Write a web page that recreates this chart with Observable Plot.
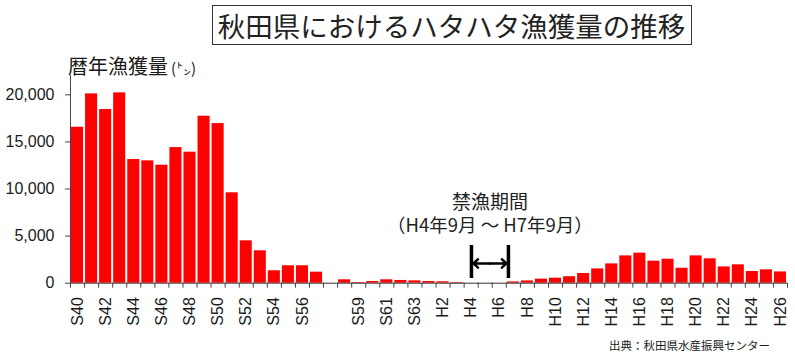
<!DOCTYPE html>
<html>
<head>
<meta charset="utf-8">
<script src="https://cdn.jsdelivr.net/npm/d3@7"></script>
<script src="https://cdn.jsdelivr.net/npm/@observablehq/plot@0.6"></script>
<style>
  body { margin: 0; background: #fff; }
  #wrap { position: relative; width: 795px; height: 360px; overflow: hidden; font-family: "Noto Sans CJK JP", sans-serif; color: #1a1a1a; }
  #chart { position: absolute; left: 0; top: 0; }
  #titlebox { position: absolute; left: 211.5px; top: 5px; width: 480px; height: 40px; box-sizing: border-box; border: 1.5px solid #333; background: #fff; }
  #title { position: absolute; left: 211.5px; width: 480px; top: 12.3px; font-size: 27.5px; line-height: 1; text-align: center; white-space: nowrap; color: #222; }
  #ylabel { position: absolute; left: 68px; top: 55.5px; font-size: 20px; line-height: 1; white-space: nowrap; }
  #ylabel span { font-size: 15px; margin-left: 3px; }
  #source { position: absolute; right: 25px; top: 339.7px; font-size: 11.5px; line-height: 1; white-space: nowrap; }
</style>
</head>
<body>
<div id="wrap">
  <div id="chart"></div>
  <div id="titlebox"></div>
  <div id="title">秋田県におけるハタハタ漁獲量の推移</div>
  <div id="ylabel">暦年漁獲量<span>(㌧)</span></div>
  <div id="source">出典：秋田県水産振興センター</div>
</div>
<script>
// Categories (era years). An empty slot sits between S57 and S58, as in the original.
const categories = [
  "S40","S41","S42","S43","S44","S45","S46","S47","S48","S49",
  "S50","S51","S52","S53","S54","S55","S56","S57"," ",
  "S58","S59","S60","S61","S62","S63",
  "H1","H2","H3","H4","H5","H6","H7","H8","H9","H10",
  "H11","H12","H13","H14","H15","H16","H17","H18","H19","H20",
  "H21","H22","H23","H24","H25","H26"
];
// Annual catch (tonnes)
const catchTons = [
  16560, 20100, 18440, 20210, 13130, 12990, 12530, 14400, 13910, 17730,
  16950, 9600, 4500, 3440, 1320, 1850, 1850, 1170, null,
  360, 74, 180, 360, 290, 250,
  180, 150, 70, 0, 0, 0, 140, 240, 430, 530,
  690, 1030, 1520, 2050, 2900, 3190, 2340, 2550, 1590, 2900,
  2590, 1730, 1950, 1240, 1420, 1200
];
const yTicks = [0, 5000, 10000, 15000, 20000];
// Every other category gets a label
const labelIndex = categories.map((c, i) => i).filter(i => i % 2 === 0);
// Fishing ban (H4年9月 ～ H7年9月), positions on the category axis
const banMarks = [28.52, 31.15];
const banTexts = ["禁漁期間", "（H4年9月 ～ H7年9月）"];

const data = categories.map((c, i) => ({ i, c, v: catchTons[i] })).filter(d => d.v != null);
const mid = (banMarks[0] + banMarks[1]) / 2;

const chart = Plot.plot({
  width: 795,
  height: 360,
  marginLeft: 70,
  marginRight: 8,
  marginTop: 75.5,
  marginBottom: 77.3,
  style: { fontFamily: "'Liberation Sans', Arial, sans-serif", fontSize: "16px", color: "#1a1a1a", background: "transparent", overflow: "visible" },
  x: { domain: [0, categories.length], axis: null },
  y: { domain: [0, 22000], axis: null },
  marks: [
    Plot.rectY(data, { x: "i", interval: 1, y: "v", fill: "#ff0000", insetLeft: 1, insetRight: 1 }),
    Plot.axisY(yTicks, { label: null, tickSize: 5, tickPadding: 11, tickFormat: d3.format(","), fontSize: 16, stroke: "#444" }),
    Plot.ruleX([0], { y1: 0, y2: 22000, stroke: "#444" }),
    Plot.axisX(d3.range(0, categories.length + 1), { label: null, tickSize: 5, tickFormat: () => "", stroke: "#444" }),
    Plot.axisX(labelIndex.map(i => i + 0.5), { label: null, tickSize: 0, tickPadding: 14, tickRotate: -90, fontSize: 16, tickFormat: d => categories[Math.floor(d)] }),
    Plot.ruleY([0], { stroke: "#333" }),
    Plot.ruleX(banMarks, { y1: 500, y2: 4000, stroke: "#000", strokeWidth: 3.5 }),
    Plot.arrow([{ a: mid, b: banMarks[0] }, { a: mid, b: banMarks[1] }], {
      x1: "a", x2: "b", y1: () => 2100, y2: () => 2100,
      stroke: "#000", strokeWidth: 2.5, headLength: 10, headAngle: 85, insetEnd: 2
    }),
    Plot.text([banTexts[0]], { x: () => mid, y: () => 8570, text: d => d, fontSize: 19, fontFamily: "'Noto Sans CJK JP', sans-serif", fill: "#222" }),
    Plot.text([banTexts[1]], { x: () => mid, y: () => 6020, text: d => d, fontSize: 18.5, fontFamily: "'Noto Sans CJK JP', sans-serif", fill: "#222" })
  ]
});
document.getElementById("chart").appendChild(chart);
</script>
</body>
</html>
